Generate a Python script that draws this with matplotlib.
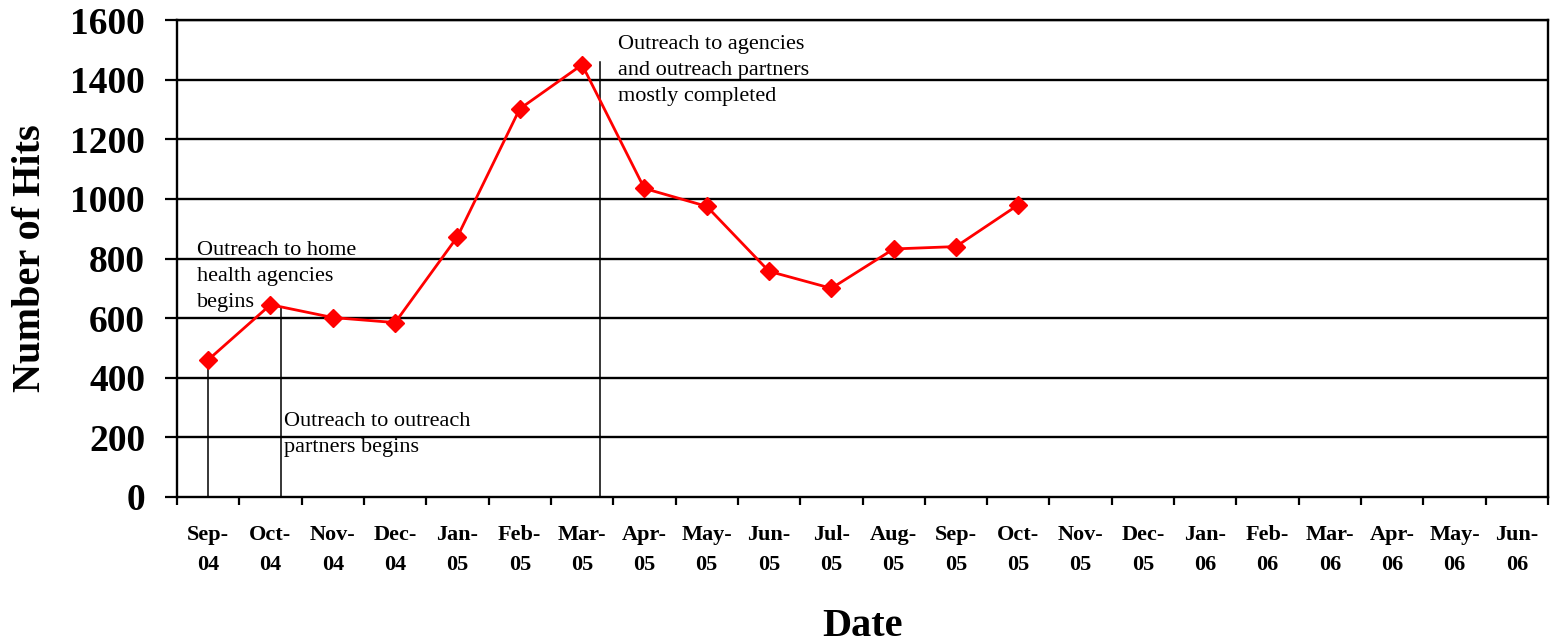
import matplotlib
matplotlib.use("Agg")
import matplotlib.pyplot as plt
import numpy as np

months = ["Sep-\n04", "Oct-\n04", "Nov-\n04", "Dec-\n04", "Jan-\n05", "Feb-\n05",
          "Mar-\n05", "Apr-\n05", "May-\n05", "Jun-\n05", "Jul-\n05", "Aug-\n05",
          "Sep-\n05", "Oct-\n05", "Nov-\n05", "Dec-\n05", "Jan-\n06", "Feb-\n06",
          "Mar-\n06", "Apr-\n06", "May-\n06", "Jun-\n06"]
hits = [460, 645, 602, 585, 873, 1302, 1450, 1035, 975, 757, 700, 832, 840, 980]
yticks = [0, 200, 400, 600, 800, 1000, 1200, 1400, 1600]

# annotations: (x position, line top value), (text x, text y, text)
ann_lines = [(0.0, 452), (1.165, 634), (6.29, 1459)]
ann_texts = [(-0.18, 860, "Outreach to home\nhealth agencies\nbegins"),
             (1.22, 286, "Outreach to outreach\npartners begins"),
             (6.57, 1550, "Outreach to agencies\nand outreach partners\nmostly completed")]

plt.rcParams['font.family'] = ['Liberation Serif', 'DejaVu Serif']

fig = plt.figure(figsize=(15.57, 6.44), dpi=100)
ax = fig.add_axes([177/1557, 1-497/644, (1548-177)/1557, (497-20)/644])

n = len(months)
x = np.arange(len(hits))
ax.set_xlim(-0.5, n-0.5)
ax.set_ylim(0, 1600)

for yv in yticks[1:]:
    ax.axhline(yv, color='black', lw=1.7, zorder=1)

for xv, top in ann_lines:
    ax.plot([xv, xv], [0, top], color='black', lw=1.1, zorder=2)

ax.plot(x, hits, color='#ff0000', lw=2.0, marker='D', ms=9, mec='#ff0000',
        mfc='#ff0000', zorder=3, clip_on=False)

for tx, ty, s in ann_texts:
    ax.text(tx, ty, s, fontsize=16, ha='left', va='top', linespacing=1.52,
            color='black', zorder=4)

ax.set_yticks(yticks)
ax.set_yticklabels([str(v) for v in yticks], fontsize=27, fontweight='bold')
ax.tick_params(axis='y', direction='out', length=9, width=1.6, pad=14)

ax.set_xticks(np.arange(n))
ax.set_xticklabels(months, fontsize=16, fontweight='bold', linespacing=1.65)
ax.set_xticks(np.arange(n+1) - 0.5, minor=True)
ax.tick_params(axis='x', which='major', length=0, pad=20)
ax.tick_params(axis='x', which='minor', direction='out', length=6, width=1.6)

for sp in ax.spines.values():
    sp.set_linewidth(1.7)
    sp.set_color('black')

ax.set_ylabel("Number of Hits", fontsize=29, fontweight='bold')
ax.yaxis.set_label_coords(-0.0934, 0.5)
ax.set_xlabel("Date", fontsize=29, fontweight='bold')
ax.xaxis.set_label_coords(0.5, -0.232)

fig.savefig("out.png", dpi=100)
